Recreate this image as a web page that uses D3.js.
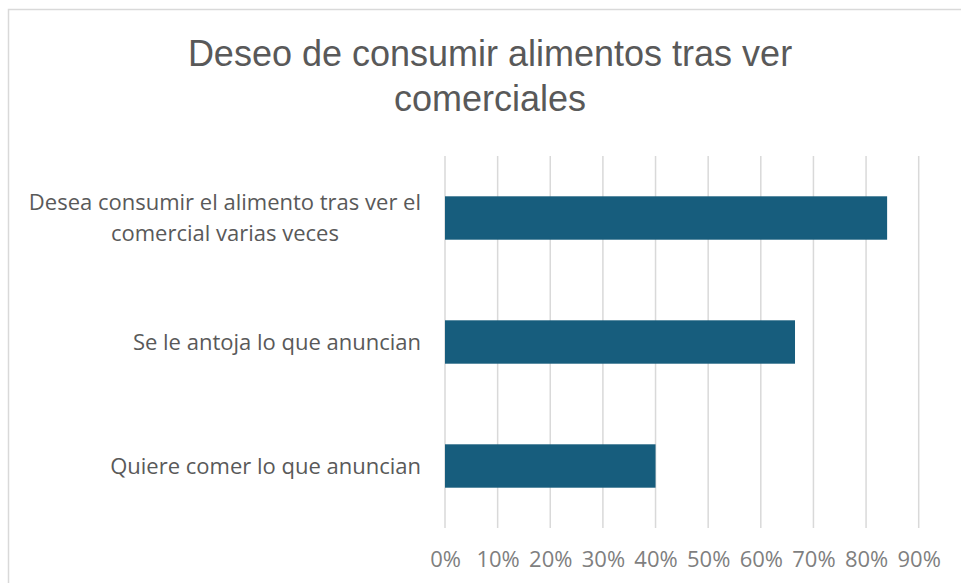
<!DOCTYPE html>
<html>
<head>
<meta charset="utf-8">
<script src="https://cdn.jsdelivr.net/npm/d3@7"></script>
<style>
    body { margin: 0; background: #fff; }
    svg { display: block; }
</style>
</head>
<body>
<div id="chart"></div>
<script>
'use strict';

// data
let categories = [
    'Desea consumir el alimento tras ver el|comercial varias veces',
    'Se le antoja lo que anuncian',
    'Quiere comer lo que anuncian'
];
let values = [0.84, 0.665, 0.40];
let tickValues = [0, 0.1, 0.2, 0.3, 0.4, 0.5, 0.6, 0.7, 0.8, 0.9];
let titleLines = ['Deseo de consumir alimentos tras ver', 'comerciales'];

let config = {
    width: 961,
    height: 583,
    plot: { left: 445, right: 918.7, top: 156, bottom: 528 },
    barColour: '#175d7d',
    gridColour: '#d9d9d9',
    textColour: '#595959',
    tickColour: '#7f7f7f',
    labelFont: '"Open Sans", sans-serif',
    titleFont: '"Liberation Sans", Arial, sans-serif'
};

let svg = d3.select('#chart')
    .append('svg')
    .attr('width', config.width)
    .attr('height', config.height);

// chart frame (only top and left edges are visible in the crop)
svg.append('path')
    .attr('d', 'M8.5,' + config.height + 'V9.5H' + config.width)
    .attr('fill', 'none')
    .attr('stroke', '#d9d9d9')
    .attr('stroke-width', 1.5);

let xScale = d3.scaleLinear()
    .domain([0, 0.9])
    .range([config.plot.left, config.plot.right]);

let yScale = d3.scaleBand()
    .domain(categories)
    .range([config.plot.top, config.plot.bottom])
    .paddingInner(0.65)
    .paddingOuter(0.325);

// gridlines
svg.append('g')
    .attr('class', 'grid')
    .selectAll('line')
    .data(tickValues)
    .enter()
    .append('line')
    .attr('x1', d => xScale(d))
    .attr('x2', d => xScale(d))
    .attr('y1', config.plot.top)
    .attr('y2', config.plot.bottom)
    .attr('stroke', config.gridColour)
    .attr('stroke-width', 1.5);

// bars
svg.append('g')
    .attr('class', 'bars')
    .selectAll('rect')
    .data(categories)
    .enter()
    .append('rect')
    .attr('x', xScale(0))
    .attr('y', d => yScale(d))
    .attr('width', (d, i) => xScale(values[i]) - xScale(0))
    .attr('height', yScale.bandwidth())
    .attr('fill', config.barColour);

// x axis labels
let xAxis = d3.axisBottom(xScale)
    .tickValues(tickValues)
    .tickFormat(d3.format('.0%'))
    .tickSize(0)
    .tickPadding(0);

let xAxisG = svg.append('g')
    .attr('class', 'x-axis')
    .attr('transform', 'translate(0,' + 567 + ')')
    .call(xAxis);

xAxisG.select('.domain').remove();
xAxisG.selectAll('text')
    .attr('dy', 0)
    .attr('fill', config.tickColour)
    .style('font-family', config.labelFont)
    .style('font-size', '22px');

// category labels
let labelRight = 421;
let labels = svg.append('g').attr('class', 'y-labels');

categories.forEach(function (cat) {
    let lines = cat.split('|');
    let cy = yScale(cat) + yScale.bandwidth() / 2;
    let lineHeight = 31;
    let text = labels.append('text')
        .attr('fill', config.textColour)
        .style('font-family', config.labelFont)
        .style('font-size', '22px');
    lines.forEach(function (line, i) {
        text.append('tspan')
            .attr('x', 0)
            .attr('y', cy + (i - (lines.length - 1) / 2) * lineHeight)
            .attr('dy', '0.35em')
            .text(line);
    });
    // multi-line labels are centred in a box that ends at labelRight
    let spans = text.selectAll('tspan').nodes();
    let maxW = d3.max(spans, n => n.getComputedTextLength());
    if (lines.length > 1) {
        text.attr('text-anchor', 'middle');
        text.selectAll('tspan').attr('x', labelRight - maxW / 2);
    } else {
        text.attr('text-anchor', 'end');
        text.selectAll('tspan').attr('x', labelRight);
    }
});

// title
let title = svg.append('text')
    .attr('text-anchor', 'middle')
    .attr('fill', config.textColour)
    .style('font-family', config.titleFont)
    .style('font-size', '36px');

titleLines.forEach(function (line, i) {
    title.append('tspan')
        .attr('x', 490)
        .attr('y', 66 + i * 45)
        .text(line);
});
</script>
</body>
</html>
